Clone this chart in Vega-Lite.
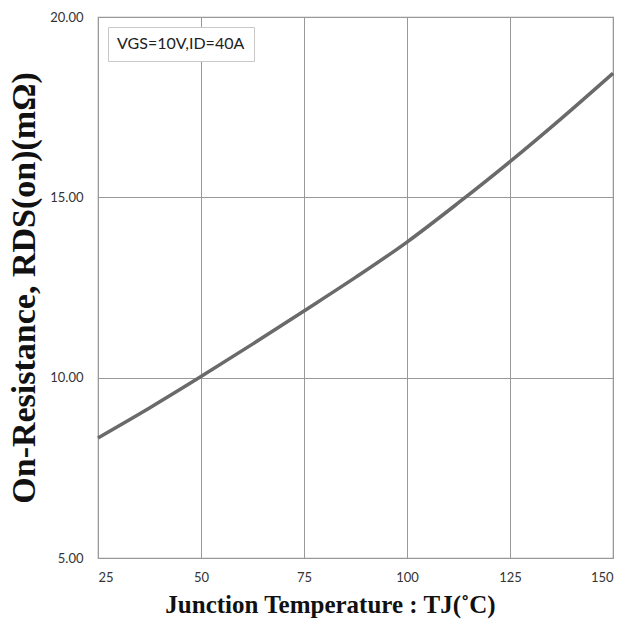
{
  "$schema": "https://vega.github.io/schema/vega-lite/v6.json",
  "autosize": "none",
  "width": 515,
  "height": 541,
  "padding": {"left": 98, "top": 17, "right": 14, "bottom": 67},
  "background": "white",
  "config": {
    "view": {"stroke": "#999999", "strokeWidth": 1.2},
    "axis": {
      "gridColor": "#999999",
      "gridOpacity": 1,
      "gridWidth": 1,
      "domain": false,
      "ticks": false,
      "labelFont": "Lato, sans-serif",
      "labelFontSize": 13,
      "labelColor": "#333333",
      "titleFont": "Liberation Serif, Times New Roman, serif",
      "titleFontWeight": "bold",
      "titleColor": "#111111"
    }
  },
  "data": {
    "values": [
      {"t": 25, "r": 8.33, "s": "VGS=10V,ID=40A"},
      {"t": 37.5, "r": 9.16, "s": "VGS=10V,ID=40A"},
      {"t": 50, "r": 10.03, "s": "VGS=10V,ID=40A"},
      {"t": 62.5, "r": 10.93, "s": "VGS=10V,ID=40A"},
      {"t": 75, "r": 11.85, "s": "VGS=10V,ID=40A"},
      {"t": 87.5, "r": 12.78, "s": "VGS=10V,ID=40A"},
      {"t": 100, "r": 13.76, "s": "VGS=10V,ID=40A"},
      {"t": 112.5, "r": 14.85, "s": "VGS=10V,ID=40A"},
      {"t": 125, "r": 15.99, "s": "VGS=10V,ID=40A"},
      {"t": 137.5, "r": 17.19, "s": "VGS=10V,ID=40A"},
      {"t": 150, "r": 18.44, "s": "VGS=10V,ID=40A"}
    ]
  },
  "mark": {"type": "line", "strokeWidth": 3.5, "interpolate": "monotone"},
  "encoding": {
    "x": {
      "field": "t",
      "type": "quantitative",
      "scale": {"domain": [25, 150], "nice": false, "zero": false},
      "axis": {
        "values": [25, 50, 75, 100, 125, 150],
        "labelPadding": 13,
        "title": "Junction Temperature : TJ(˚C)",
        "titleFontSize": 25,
        "titlePadding": 8,
        "titleX": 232
      }
    },
    "y": {
      "field": "r",
      "type": "quantitative",
      "scale": {"domain": [5, 20], "nice": false, "zero": false},
      "axis": {
        "values": [5, 10, 15, 20],
        "format": ".2f",
        "labelPadding": 15,
        "title": "On-Resistance, RDS(on)(mΩ)",
        "titleFontSize": 34,
        "titlePadding": 8
      }
    },
    "color": {
      "field": "s",
      "type": "nominal",
      "scale": {"range": ["#6a6a6a"]},
      "legend": {
        "title": null,
        "orient": "top-left",
        "offset": 10,
        "strokeColor": "#c8c8c8",
        "fillColor": "white",
        "padding": 9,
        "symbolSize": 0,
        "symbolStrokeWidth": 0,
        "labelOffset": -16,
        "labelFont": "Lato, sans-serif",
        "labelFontSize": 16,
        "labelColor": "#222222",
        "labelLimit": 300
      }
    }
  }
}
